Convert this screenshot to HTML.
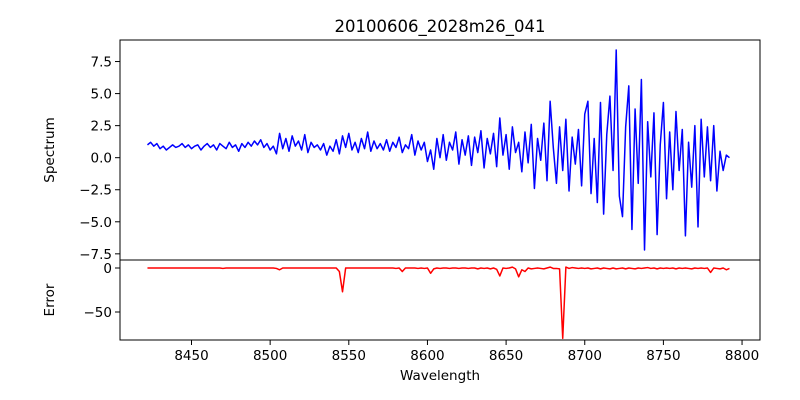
<!DOCTYPE html>
<html><head><meta charset="utf-8"><style>
body{margin:0;background:#fff;width:800px;height:400px;overflow:hidden}
svg{display:block;font-family:"DejaVu Sans","Liberation Sans",sans-serif}
</style></head><body>
<svg id="chart" width="800" height="400">
<text x="440" y="32" text-anchor="middle" font-size="16.5">20100606_2028m26_041</text>
<text transform="translate(54,150) rotate(-90)" text-anchor="middle" font-size="13.5">Spectrum</text>
<text transform="translate(54,300) rotate(-90)" text-anchor="middle" font-size="13.5">Error</text>
<text x="440" y="380" text-anchor="middle" font-size="13.5">Wavelength</text>
</svg>
<script>
const wStart = 8422, wStep = 2;
const spectrum = [
1.0,1.2,0.9,1.1,0.7,0.9,0.6,0.8,1.0,0.8,
0.9,1.1,0.8,1.0,0.7,0.9,1.0,0.6,0.9,1.1,
0.8,1.0,0.6,1.1,0.9,0.7,1.2,0.8,1.0,0.5,
1.1,0.8,1.2,0.9,1.3,1.0,1.4,0.8,1.1,0.6,
0.9,0.3,1.9,0.7,1.5,0.5,1.7,0.9,1.3,0.6,
1.8,0.4,1.2,0.8,1.0,0.6,1.1,0.2,0.9,0.5,
1.4,0.3,1.7,0.8,1.9,0.6,1.2,0.4,1.5,0.7,
2.0,0.5,1.3,0.7,1.1,0.6,1.4,0.5,1.2,0.8,
1.6,0.4,1.0,0.7,1.8,0.2,1.3,0.6,1.2,-0.3,
0.6,-0.9,1.5,0.0,1.8,-0.2,1.2,0.6,2.0,-0.5,
1.4,0.2,1.7,-0.6,1.6,0.4,2.1,-0.8,1.5,0.3,
1.9,-0.7,3.1,0.2,1.8,-0.9,2.4,0.4,1.2,-1.1,
2.0,-0.4,2.6,-2.4,1.5,-0.2,2.7,-1.8,4.4,0.8,
-2.0,2.4,-1.0,3.0,-2.6,1.6,-0.5,2.2,-2.2,3.4,
4.4,-2.8,1.5,-3.5,4.3,-4.4,1.8,4.8,-1.0,8.4,
-3.0,-4.6,2.4,5.6,-5.6,3.8,-2.0,6.1,-7.2,2.8,
-1.5,3.5,-6.0,1.0,4.3,-3.2,2.0,-2.5,3.6,-1.0,
2.2,-6.1,1.2,-2.3,2.5,-5.4,3.0,-1.5,2.4,-1.8,
2.5,-2.6,0.5,-1.0,0.2,0.0];
const errorVals = [
0,0,0,0,0,0,0,0,0,0,
0,0,0,0,0,0,0,0,0,0,
0,0,0,0,-0.5,0,0,0,0,0,
0,0,0,0,0,0,0,0,0,0,
0,-0.5,-2,0,0,0,0,0,0,0,
0,0,0,0,0,0,0,0,0,0,
0,-4,-27,0,0,0,0,0,0,0,
0,0,0,0,0,0,0,0,0,-0.5,
0,-4,0,0,0,0,-0.5,0,-0.5,0,
-6,-1,0,-0.5,0,0,-0.5,0,0,-0.5,
0,0,-0.5,0,0,-1,0,-0.5,0,-1,
0,-1.5,-9,0,-0.5,0,1,-1,-10,-2,
-4,0,-1,-0.5,0,-0.5,-1,0,1,-0.5,
-0.5,-1,-80,1,-0.5,0.5,0,-0.5,0,-0.5,
0,-1,-0.5,0,-1,0,-0.5,-1,0,-1,
-0.5,0,-1,0,-0.5,-1,0,-0.5,0,0.5,
-0.5,0,-1,0,-0.5,0,-0.5,0,-1,0,
-0.5,0,-0.5,-1,0,-0.5,0,-0.5,0,-5,
0,-0.5,-1,0,-2,-0.5];
const xTicks = [8450,8500,8550,8600,8650,8700,8750,8800];
const specTicks = [7.5,5.0,2.5,0.0,-2.5,-5.0,-7.5];
const specTickLabels = ["7.5","5.0","2.5","0.0","\u22122.5","\u22125.0","\u22127.5"];
const errTicks = [0,-50];
const errTickLabels = ["0","\u221250"];

const svg = document.getElementById('chart');
const NS = 'http://www.w3.org/2000/svg';
const L = 120, R = 760;
const xS = w => 191.5 + (w - 8450) * 1.573;
const yS = v => 40 + (9.18 - v) * 12.82;
const yE = v => 268 - v * 0.88;
function mk(tag, attrs){const e=document.createElementNS(NS,tag);for(const k in attrs)e.setAttribute(k,attrs[k]);svg.appendChild(e);return e;}

// spectrum line
let d = spectrum.map((v,i)=>(i?'L':'M')+xS(wStart+i*wStep).toFixed(2)+' '+yS(v).toFixed(2)).join(' ');
const sp = mk('path',{d:d,fill:'none',stroke:'#0000ff','stroke-width':1.5,'stroke-linejoin':'round'});


d = errorVals.map((v,i)=>(i?'L':'M')+xS(wStart+i*wStep).toFixed(2)+' '+yE(v).toFixed(2)).join(' ');
const er = mk('path',{d:d,fill:'none',stroke:'#ff0000','stroke-width':1.5,'stroke-linejoin':'round'});



// frames
const f1 = mk('rect',{x:L,y:40,width:R-L,height:220,fill:'none',stroke:'#000','stroke-width':1});


const f2 = mk('rect',{x:L,y:260,width:R-L,height:80,fill:'none',stroke:'#000','stroke-width':1});



specTicks.forEach((t,i)=>{
  const y=yS(t);
  const tk = mk('line',{x1:L-5,x2:L,y1:y,y2:y,stroke:'#000'});
  
  
  const lb = mk('text',{x:L-8,y:y+5,'text-anchor':'end','font-size':13.5});
  lb.textContent = specTickLabels[i];
  
  
});
errTicks.forEach((t,i)=>{
  const y=yE(t);
  const tk = mk('line',{x1:L-5,x2:L,y1:y,y2:y,stroke:'#000'});
  
  
  const lb = mk('text',{x:L-8,y:y+5,'text-anchor':'end','font-size':13.5});
  lb.textContent = errTickLabels[i];
  
  
});
xTicks.forEach(t=>{
  const x=xS(t);
  const tk = mk('line',{x1:x,x2:x,y1:340,y2:345,stroke:'#000'});
  
  
  const lb = mk('text',{x:x,y:360,'text-anchor':'middle','font-size':13.5});
  lb.textContent = String(t);
  
  
});
</script>
</body></html>
